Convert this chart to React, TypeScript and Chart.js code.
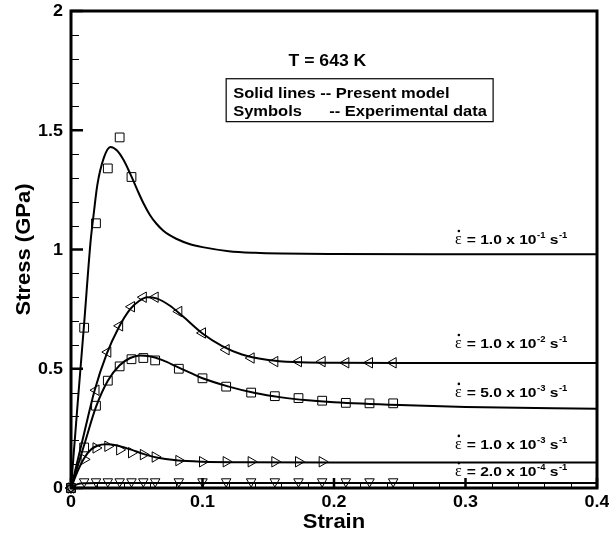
import React, { useEffect, useRef } from "react";
import { Chart, registerables } from "chart.js";

Chart.register(...registerables);

// ---- tick labels ----
const xTickValues = [0, 0.1, 0.2, 0.3, 0.4];
const xTickLabels = ["0", "0.1", "0.2", "0.3", "0.4"];
const yTickValues = [0, 0.5, 1, 1.5, 2];
const yTickLabels = ["0", "0.5", "1", "1.5", "2"];
const xMinorTicks = [0.02, 0.04, 0.06, 0.08, 0.12, 0.14, 0.16, 0.18, 0.22, 0.24, 0.26, 0.28, 0.32, 0.34, 0.36, 0.38];
const yMinorTicks = [0.1, 0.2, 0.3, 0.4, 0.6, 0.7, 0.8, 0.9, 1.1, 1.2, 1.3, 1.4, 1.6, 1.7, 1.8, 1.9];

// ---- strain-rate labels ----
const rateMantissa = ["1.0", "1.0", "5.0", "1.0", "2.0"];
const rateExponent = ["-1", "-2", "-3", "-3", "-4"];
const rateLabelStress = [1.023, 0.587, 0.382, 0.164, 0.05];
const rateLabelStrain = 0.292;

// ---- model curves (solid lines) ----
const model1X = [0, 0.005, 0.01, 0.015, 0.0175, 0.02, 0.025, 0.03, 0.035, 0.04, 0.045, 0.05, 0.055, 0.06, 0.065, 0.07, 0.075, 0.08, 0.09, 0.1, 0.12, 0.14, 0.16, 0.2, 0.3, 0.4];
const model1Y = [0, 0.35, 0.69, 1.04, 1.16, 1.27, 1.385, 1.43, 1.415, 1.375, 1.318, 1.255, 1.195, 1.145, 1.108, 1.08, 1.06, 1.045, 1.023, 1.01, 0.993, 0.986, 0.983, 0.981, 0.98, 0.98];

const model2X = [0, 0.01, 0.018, 0.027, 0.036, 0.045, 0.052, 0.058, 0.065, 0.075, 0.085, 0.1, 0.115, 0.13, 0.15, 0.17, 0.2, 0.25, 0.4];
const model2Y = [0, 0.23, 0.41, 0.56, 0.67, 0.75, 0.785, 0.8, 0.795, 0.765, 0.72, 0.648, 0.595, 0.56, 0.537, 0.528, 0.525, 0.524, 0.524];

const model3X = [0, 0.01, 0.019, 0.028, 0.037, 0.045, 0.052, 0.06, 0.07, 0.08, 0.09, 0.1, 0.12, 0.14, 0.16, 0.18, 0.2, 0.25, 0.3, 0.4];
const model3Y = [0, 0.18, 0.34, 0.45, 0.515, 0.545, 0.556, 0.552, 0.535, 0.51, 0.485, 0.46, 0.425, 0.398, 0.38, 0.368, 0.36, 0.348, 0.34, 0.332];

const model4X = [0, 0.005, 0.01, 0.015, 0.02, 0.027, 0.035, 0.045, 0.055, 0.065, 0.08, 0.1, 0.13, 0.2, 0.4];
const model4Y = [0, 0.07, 0.125, 0.16, 0.177, 0.183, 0.178, 0.162, 0.143, 0.128, 0.116, 0.11, 0.108, 0.107, 0.107];

const model5X = [0, 0.005, 0.01, 0.02, 0.4];
const model5Y = [0, 0.016, 0.02, 0.021, 0.021];

// ---- experimental data (symbols) ----
const exp1X = [0, 0.01, 0.019, 0.028, 0.037, 0.046];
const exp1Y = [0, 0.672, 1.11, 1.34, 1.47, 1.304];

const exp2X = [0, 0.019, 0.028, 0.037, 0.046, 0.055, 0.064, 0.082, 0.1, 0.118, 0.137, 0.155, 0.173, 0.191, 0.209, 0.227, 0.245];
const exp2Y = [0, 0.41, 0.57, 0.68, 0.76, 0.8, 0.8, 0.74, 0.65, 0.58, 0.545, 0.53, 0.53, 0.53, 0.525, 0.525, 0.525];

const exp3X = [0, 0.01, 0.019, 0.028, 0.037, 0.046, 0.055, 0.064, 0.082, 0.1, 0.118, 0.137, 0.155, 0.173, 0.191, 0.209, 0.227, 0.245];
const exp3Y = [0, 0.17, 0.345, 0.45, 0.51, 0.54, 0.545, 0.535, 0.5, 0.46, 0.425, 0.4, 0.385, 0.377, 0.366, 0.357, 0.355, 0.355];

const exp4X = [0, 0.01, 0.019, 0.028, 0.037, 0.046, 0.055, 0.064, 0.082, 0.1, 0.118, 0.137, 0.155, 0.173, 0.191];
const exp4Y = [0, 0.12, 0.168, 0.175, 0.16, 0.148, 0.14, 0.13, 0.115, 0.11, 0.11, 0.11, 0.11, 0.11, 0.11];

const exp5X = [0, 0.01, 0.019, 0.028, 0.037, 0.046, 0.055, 0.064, 0.082, 0.1, 0.118, 0.137, 0.155, 0.173, 0.191, 0.209, 0.227, 0.245];
const exp5Y = [0, 0.027, 0.027, 0.027, 0.027, 0.027, 0.027, 0.027, 0.027, 0.027, 0.027, 0.027, 0.027, 0.027, 0.027, 0.027, 0.027, 0.027];

const zip = (xs: number[], ys: number[]) => xs.map((x, i) => ({ x, y: ys[i] }));

const SANS = '"Liberation Sans", Arial, sans-serif';

function drawText(
  ctx: CanvasRenderingContext2D,
  s: string,
  x: number,
  y: number,
  font: string,
  align: CanvasTextAlign,
  baseline: CanvasTextBaseline,
  sx = 1,
  rot = 0
) {
  ctx.save();
  ctx.font = font;
  ctx.textAlign = align;
  ctx.textBaseline = baseline;
  ctx.fillStyle = "#000";
  ctx.translate(x, y);
  if (rot) ctx.rotate(rot);
  ctx.scale(sx, 1);
  ctx.fillText(s, 0, 0);
  ctx.restore();
}

function textWidth(ctx: CanvasRenderingContext2D, s: string, font: string, sx = 1) {
  ctx.save();
  ctx.font = font;
  const w = ctx.measureText(s).width * sx;
  ctx.restore();
  return w;
}

const decorPlugin = {
  id: "decor",
  afterDraw(chart: any) {
    const ctx: CanvasRenderingContext2D = chart.ctx;
    const xs = chart.scales.x;
    const ys = chart.scales.y;
    const ca = chart.chartArea;
    ctx.save();
    ctx.strokeStyle = "#000";
    ctx.lineCap = "butt";

    // minor ticks
    ctx.lineWidth = 1;
    ctx.beginPath();
    for (const v of yMinorTicks) {
      const py = Math.round(ys.getPixelForValue(v)) + 0.5;
      ctx.moveTo(ca.left, py);
      ctx.lineTo(ca.left + 8, py);
    }
    for (const v of xMinorTicks) {
      const px = Math.round(xs.getPixelForValue(v)) + 0.5;
      ctx.moveTo(px, ca.bottom);
      ctx.lineTo(px, ca.bottom - 6);
    }
    ctx.stroke();

    // major ticks
    ctx.lineWidth = 2.5;
    ctx.beginPath();
    for (const v of yTickValues) {
      const py = ys.getPixelForValue(v);
      ctx.moveTo(ca.left, py);
      ctx.lineTo(ca.left + 12, py);
    }
    for (const v of xTickValues) {
      const px = xs.getPixelForValue(v);
      ctx.moveTo(px, ca.bottom);
      ctx.lineTo(px, ca.bottom - 10);
    }
    ctx.stroke();

    // frame
    ctx.lineWidth = 3;
    ctx.strokeRect(ca.left, ca.top, ca.right - ca.left, ca.bottom - ca.top);

    // tick labels
    const tickFont = `bold 16px ${SANS}`;
    xTickValues.forEach((v, i) => {
      drawText(ctx, xTickLabels[i], xs.getPixelForValue(v), ca.bottom + 7, tickFont, "center", "top", 1.12);
    });
    yTickValues.forEach((v, i) => {
      drawText(ctx, yTickLabels[i], ca.left - 8, ys.getPixelForValue(v) + 1, tickFont, "right", "middle", 1.12);
    });

    // axis titles
    const titleFont = `bold 20px ${SANS}`;
    drawText(ctx, "Strain", (ca.left + ca.right) / 2, 528, titleFont, "center", "alphabetic", 1.1);
    drawText(ctx, "Stress (GPa)", 30, (ca.top + ca.bottom) / 2, titleFont, "center", "alphabetic", 1.1, -Math.PI / 2);

    // temperature
    const cx = xs.getPixelForValue(0.195);
    drawText(ctx, "T = 643 K", cx, 66, `bold 16px ${SANS}`, "center", "alphabetic", 1.1);

    // annotation box
    const bx = xs.getPixelForValue(0.118);
    const bx2 = xs.getPixelForValue(0.321);
    const by = ys.getPixelForValue(1.716);
    const by2 = ys.getPixelForValue(1.536);
    ctx.lineWidth = 1.2;
    ctx.strokeRect(bx, by, bx2 - bx, by2 - by);
    const boxFont = `bold 15px ${SANS}`;
    drawText(ctx, "Solid lines -- Present model", bx + 7, by + 19, boxFont, "left", "alphabetic", 1.1);
    drawText(ctx, "Symbols", bx + 7, by + 37, boxFont, "left", "alphabetic", 1.1);
    drawText(ctx, "-- Experimental data", bx + 7 + 96, by + 37, boxFont, "left", "alphabetic", 1.1);

    // strain-rate labels
    const mainFont = `bold 13px ${SANS}`;
    const supFont = `bold 9px ${SANS}`;
    const epsFont = `16px "Liberation Serif", "DejaVu Serif", serif`;
    const msx = 1.2;
    rateMantissa.forEach((m, i) => {
      let x = xs.getPixelForValue(rateLabelStrain);
      const base = ys.getPixelForValue(rateLabelStress[i]);
      drawText(ctx, "\u03B5", x, base, epsFont, "left", "alphabetic", 1);
      const ew = textWidth(ctx, "\u03B5", epsFont);
      ctx.beginPath();
      ctx.fillStyle = "#000";
      ctx.arc(x + ew / 2 + 0.5, base - 13, 1.3, 0, Math.PI * 2);
      ctx.fill();
      x += ew + 5;
      const s1 = `= ${m} x 10`;
      drawText(ctx, s1, x, base, mainFont, "left", "alphabetic", msx);
      x += textWidth(ctx, s1, mainFont, msx) + 0.5;
      drawText(ctx, rateExponent[i], x, base - 6, supFont, "left", "alphabetic", 1.05);
      x += textWidth(ctx, rateExponent[i], supFont, 1.05);
      drawText(ctx, " s", x, base, mainFont, "left", "alphabetic", msx);
      x += textWidth(ctx, " s", mainFont, msx) + 0.5;
      drawText(ctx, "-1", x, base - 6, supFont, "left", "alphabetic", 1.05);
    });
    ctx.restore();
  },
};

function lineDs(xs: number[], ys: number[]) {
  return {
    data: zip(xs, ys),
    showLine: true,
    borderColor: "#000",
    borderWidth: 2,
    pointRadius: 0,
    cubicInterpolationMode: "monotone" as const,
    fill: false,
    order: 2,
  };
}

function symDs(xs: number[], ys: number[], style: string, rotation: number, radius: number) {
  return {
    data: zip(xs, ys),
    showLine: false,
    pointStyle: style,
    pointRotation: rotation,
    pointRadius: radius,
    pointBorderWidth: 1,
    pointBorderColor: "#000",
    pointBackgroundColor: "rgba(0,0,0,0)",
    borderColor: "#000",
    backgroundColor: "rgba(0,0,0,0)",
    clip: false,
    order: 1,
  };
}

export default function App() {
  const ref = useRef<HTMLCanvasElement | null>(null);
  useEffect(() => {
    if (!ref.current) return;
    const chart = new Chart(ref.current, {
      type: "scatter",
      data: {
        datasets: [
          lineDs(model1X, model1Y),
          lineDs(model2X, model2Y),
          lineDs(model3X, model3Y),
          lineDs(model4X, model4Y),
          lineDs(model5X, model5Y),
          symDs(exp1X, exp1Y, "rect", 0, 6.2),
          symDs(exp2X, exp2Y, "triangle", -90, 6),
          symDs(exp3X, exp3Y, "rect", 0, 6.2),
          symDs(exp4X, exp4Y, "triangle", 90, 6),
          symDs(exp5X, exp5Y, "triangle", 180, 5.5),
        ] as any,
      },
      options: {
        responsive: false,
        animation: false,
        events: [],
        layout: { padding: { left: 71, top: 11, right: 12, bottom: 47 } },
        plugins: { legend: { display: false }, tooltip: { enabled: false } },
        scales: {
          x: { type: "linear", min: 0, max: 0.4, display: false },
          y: { type: "linear", min: 0, max: 2, display: false },
        },
      },
      plugins: [decorPlugin],
    });
    return () => chart.destroy();
  }, []);
  return (
    <div style={{ position: "absolute", left: 0, top: 0, width: 609, height: 535, background: "#fff" }}>
      <canvas ref={ref} width={609} height={535} style={{ width: 609, height: 535, display: "block" }} />
    </div>
  );
}
